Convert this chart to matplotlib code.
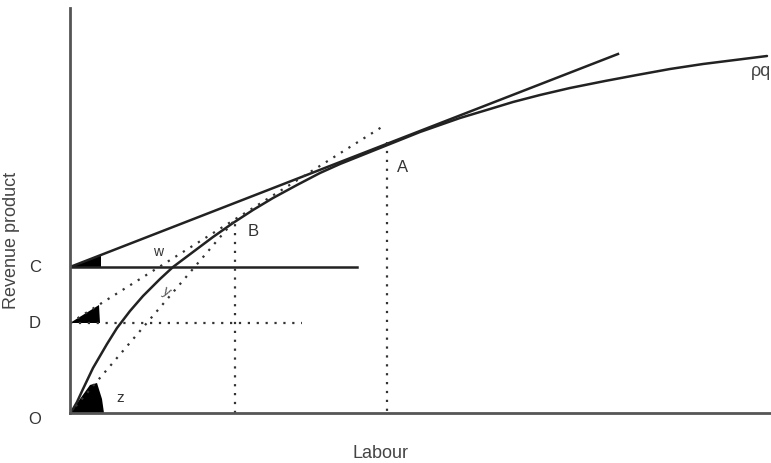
import matplotlib
matplotlib.use("Agg")
import matplotlib.pyplot as plt
from matplotlib.patches import Polygon

plt.rcParams['font.family'] = ['Liberation Sans', 'DejaVu Sans']

# revenue product curve
curva_x = [0, 3, 7, 13, 23, 37, 47, 60, 73, 90, 103, 123, 143, 163, 183, 203, 227, 250,
           270, 290, 320, 350, 390, 420, 443, 470, 500, 535, 567, 600, 633, 665, 697]
curva_y = [0, 4, 11, 24, 45, 69, 85, 102, 117, 134, 146, 161, 176, 190, 203, 215, 228, 240,
           249, 257, 269, 281, 295, 304, 311, 318, 325, 332, 338, 344, 349, 353, 357]

# tangent from C
tang_x = [0, 548]
tang_y = [146, 359]

nivel_C = 146
nivel_D = 90
ponto_B = (165, 191)
ponto_A = (317, 271)

# dotted ray from O through B, and from D upwards
raio_O_x = [0, 163]
raio_O_y = [0, 191]
raio_D_x = [0, 315]
raio_D_y = [90, 288]

# filled angle wedges at C, D and O
cunha_C = [(0, 146), (31, 146), (31, 158)]
cunha_D = [(0, 90), (30, 90), (29, 108)]
cunha_O = [(0, 0), (34, 0), (32, 14), (27, 30), (20, 28)]

fig = plt.figure(figsize=(7.71, 4.63), dpi=100)
ax = fig.add_axes([70 / 771, 50 / 463, 701 / 771, 405 / 463])
ax.set_xlim(0, 701)
ax.set_ylim(0, 405)
for lado in ['top', 'right']:
    ax.spines[lado].set_visible(False)
for lado in ['left', 'bottom']:
    ax.spines[lado].set_linewidth(2)
    ax.spines[lado].set_color('#555555')
ax.set_xticks([])
ax.set_yticks([])

cor = '#222222'
ax.plot(curva_x, curva_y, color=cor, lw=1.8, solid_joinstyle='round', solid_capstyle='round')
ax.plot(tang_x, tang_y, color=cor, lw=1.8)
ax.plot([0, 287], [nivel_C, nivel_C], color=cor, lw=1.8)

pontilhado = dict(color='#333333', lw=1.6, linestyle=(0, (1, 3)))
ax.plot([0, 232], [nivel_D, nivel_D], **pontilhado)
ax.plot(raio_O_x, raio_O_y, **pontilhado)
ax.plot(raio_D_x, raio_D_y, **pontilhado)
ax.plot([ponto_B[0], ponto_B[0]], [0, ponto_B[1]], **pontilhado)
ax.plot([ponto_A[0], ponto_A[0]], [ponto_A[1], 0], **pontilhado)

for cunha in [cunha_C, cunha_D, cunha_O]:
    ax.add_patch(Polygon(cunha, closed=True, color='black', lw=0))

txt = dict(color='#333333', fontsize=12, ha='center', va='center', clip_on=False)
ax.text(-35, nivel_C, 'C', **txt)
ax.text(-35, nivel_D, 'D', **txt)
ax.text(-35, -7, 'O', **txt)
ax.text(333, 245, 'A', **txt)
ax.text(183, 181, 'B', **txt)
ax.text(88, 161, 'w', fontsize=10, color='#333333', ha='center', va='center')
ax.text(96, 121, 'y', fontsize=10, color='#555555', ha='center', va='center', rotation=-30)
ax.text(50, 15, 'z', fontsize=11, color='#333333', ha='center', va='center')
ax.text(681, 341, 'ρq', fontsize=13, color='#444444', ha='left', va='center', clip_on=False)

ax.text(-58, 173, 'Revenue product', rotation=90, fontsize=13, color='#444444',
        ha='center', va='center', clip_on=False)
ax.text(310, -40, 'Labour', fontsize=13, color='#444444', ha='center', va='center', clip_on=False)

fig.savefig('out.png', dpi=100)
